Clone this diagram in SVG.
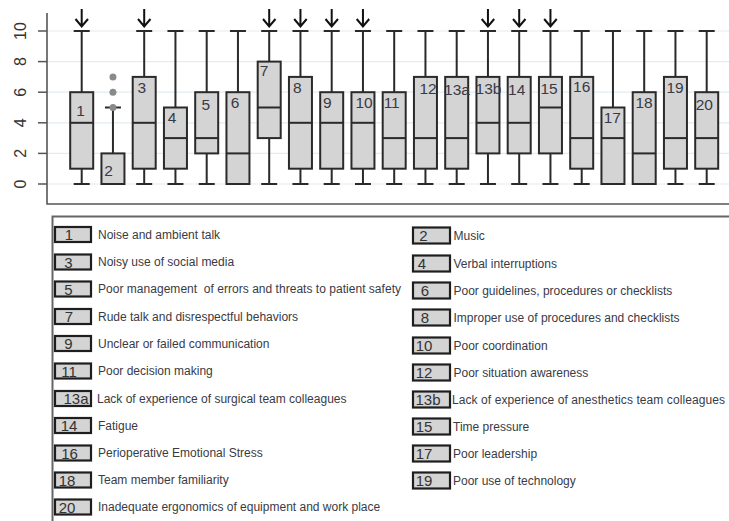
<svg xmlns="http://www.w3.org/2000/svg" width="729" height="521" viewBox="0 0 729 521">
<style>
.grid{stroke:#e3ecf2;stroke-width:1.2}
.axis{stroke:#555;stroke-width:1.6;fill:none}
.tick{stroke:#555;stroke-width:1.5}
.tl{font-family:"Liberation Sans",Arial,sans-serif;font-size:16px;fill:#333}
.box{fill:#d4d4d4;stroke:#2a2a2a;stroke-width:2}
.wh{stroke:#2a2a2a;stroke-width:2;fill:none}
.med{stroke:#2a2a2a;stroke-width:2}
.bl{font-family:"Liberation Sans",Arial,sans-serif;font-size:15.5px;fill:#3a3a44;text-anchor:middle}
.arr{stroke:#111;stroke-width:2;fill:none}
.out{fill:#8a8a8a}
.kb{fill:#d4d4d4;stroke:#1e1e1e;stroke-width:2.2}
.kn{font-family:"Liberation Sans",Arial,sans-serif;font-size:15px;fill:#333;text-anchor:middle}
.lt{font-family:"Liberation Sans",Arial,sans-serif;font-size:12px;fill:#3a3a44;white-space:pre}
.frame{stroke:#666;stroke-width:2;fill:none}
</style>
<rect width="729" height="521" fill="#fff"/>
<g id="plot-axes">
<line class="grid" x1="47" y1="184" x2="729" y2="184"/>
<line class="grid" x1="47" y1="153.4" x2="729" y2="153.4"/>
<line class="grid" x1="47" y1="122.8" x2="729" y2="122.8"/>
<line class="grid" x1="47" y1="92.2" x2="729" y2="92.2"/>
<line class="grid" x1="47" y1="61.6" x2="729" y2="61.6"/>
<line class="grid" x1="47" y1="31" x2="729" y2="31"/>
<path class="axis" d="M47 13 V204 H729"/>
<line class="tick" x1="38" y1="184" x2="47" y2="184"/>
<line class="tick" x1="38" y1="153.4" x2="47" y2="153.4"/>
<line class="tick" x1="38" y1="122.8" x2="47" y2="122.8"/>
<line class="tick" x1="38" y1="92.2" x2="47" y2="92.2"/>
<line class="tick" x1="38" y1="61.6" x2="47" y2="61.6"/>
<line class="tick" x1="38" y1="31" x2="47" y2="31"/>
<text class="tl" text-anchor="middle" transform="translate(25.5 184) rotate(-90)">0</text>
<text class="tl" text-anchor="middle" transform="translate(25.5 153.4) rotate(-90)">2</text>
<text class="tl" text-anchor="middle" transform="translate(25.5 122.8) rotate(-90)">4</text>
<text class="tl" text-anchor="middle" transform="translate(25.5 92.2) rotate(-90)">6</text>
<text class="tl" text-anchor="middle" transform="translate(25.5 61.6) rotate(-90)">8</text>
<text class="tl" text-anchor="middle" transform="translate(25.5 31) rotate(-90)">10</text>
</g>
<g id="box1"><path class="wh" d="M81.7 31V92.2M81.7 168.7V184M73.7 31H89.7M73.7 184H89.7"/><rect class="box" x="70.2" y="92.2" width="23" height="76.5"/><line class="med" x1="70.2" y1="122.8" x2="93.2" y2="122.8"/><text class="bl" x="80.5" y="115.5">1</text><path class="arr" d="M81.7 9V26.5M75.5 19L81.7 26.5L88 19"/></g>
<g id="box2"><path class="wh" d="M112.95 107.5V153.4M104.95 107.5H120.95"/><rect class="box" x="101.45" y="153.4" width="23" height="30.6"/><line class="med" x1="101.45" y1="184" x2="124.45" y2="184"/><circle class="out" cx="112.95" cy="107.5" r="3.5"/><circle class="out" cx="112.95" cy="92.2" r="3.5"/><circle class="out" cx="112.95" cy="76.9" r="3.5"/><text class="bl" x="108.5" y="176">2</text></g>
<g id="box3"><path class="wh" d="M144.2 31V76.9M144.2 168.7V184M136.2 31H152.2M136.2 184H152.2"/><rect class="box" x="132.7" y="76.9" width="23" height="91.8"/><line class="med" x1="132.7" y1="122.8" x2="155.7" y2="122.8"/><text class="bl" x="141.7" y="93">3</text><path class="arr" d="M144.2 9V26.5M138 19L144.2 26.5L150.5 19"/></g>
<g id="box4"><path class="wh" d="M175.45 31V107.5M175.45 168.7V184M167.45 31H183.45M167.45 184H183.45"/><rect class="box" x="163.95" y="107.5" width="23" height="61.2"/><line class="med" x1="163.95" y1="138.1" x2="186.95" y2="138.1"/><text class="bl" x="172" y="123">4</text></g>
<g id="box5"><path class="wh" d="M206.7 31V92.2M206.7 153.4V184M198.7 31H214.7M198.7 184H214.7"/><rect class="box" x="195.2" y="92.2" width="23" height="61.2"/><line class="med" x1="195.2" y1="138.1" x2="218.2" y2="138.1"/><text class="bl" x="205.7" y="109.5">5</text></g>
<g id="box6"><path class="wh" d="M237.95 31V92.2M229.95 31H245.95"/><rect class="box" x="226.45" y="92.2" width="23" height="91.8"/><line class="med" x1="226.45" y1="153.4" x2="249.45" y2="153.4"/><text class="bl" x="235" y="108">6</text></g>
<g id="box7"><path class="wh" d="M269.2 31V61.6M269.2 138.1V184M261.2 31H277.2M261.2 184H277.2"/><rect class="box" x="257.7" y="61.6" width="23" height="76.5"/><line class="med" x1="257.7" y1="107.5" x2="280.7" y2="107.5"/><text class="bl" x="264" y="76">7</text><path class="arr" d="M269.2 9V26.5M263 19L269.2 26.5L275.5 19"/></g>
<g id="box8"><path class="wh" d="M300.45 31V76.9M300.45 168.7V184M292.45 31H308.45M292.45 184H308.45"/><rect class="box" x="288.95" y="76.9" width="23" height="91.8"/><line class="med" x1="288.95" y1="122.8" x2="311.95" y2="122.8"/><text class="bl" x="297.3" y="93">8</text><path class="arr" d="M300.45 9V26.5M294.2 19L300.45 26.5L306.7 19"/></g>
<g id="box9"><path class="wh" d="M331.7 31V92.2M331.7 168.7V184M323.7 31H339.7M323.7 184H339.7"/><rect class="box" x="320.2" y="92.2" width="23" height="76.5"/><line class="med" x1="320.2" y1="122.8" x2="343.2" y2="122.8"/><text class="bl" x="327.3" y="108">9</text><path class="arr" d="M331.7 9V26.5M325.5 19L331.7 26.5L338 19"/></g>
<g id="box10"><path class="wh" d="M362.95 31V92.2M362.95 168.7V184M354.95 31H370.95M354.95 184H370.95"/><rect class="box" x="351.45" y="92.2" width="23" height="76.5"/><line class="med" x1="351.45" y1="122.8" x2="374.45" y2="122.8"/><text class="bl" x="364" y="108">10</text><path class="arr" d="M362.95 9V26.5M356.7 19L362.95 26.5L369.2 19"/></g>
<g id="box11"><path class="wh" d="M394.2 31V92.2M394.2 168.7V184M386.2 31H402.2M386.2 184H402.2"/><rect class="box" x="382.7" y="92.2" width="23" height="76.5"/><line class="med" x1="382.7" y1="138.1" x2="405.7" y2="138.1"/><text class="bl" x="391.7" y="108">11</text></g>
<g id="box12"><path class="wh" d="M425.45 31V76.9M425.45 168.7V184M417.45 31H433.45M417.45 184H433.45"/><rect class="box" x="413.95" y="76.9" width="23" height="91.8"/><line class="med" x1="413.95" y1="138.1" x2="436.95" y2="138.1"/><text class="bl" x="428" y="93.5">12</text></g>
<g id="box13a"><path class="wh" d="M456.7 31V76.9M456.7 168.7V184M448.7 31H464.7M448.7 184H464.7"/><rect class="box" x="445.2" y="76.9" width="23" height="91.8"/><line class="med" x1="445.2" y1="138.1" x2="468.2" y2="138.1"/><text class="bl" x="457" y="94.5">13a</text></g>
<g id="box13b"><path class="wh" d="M487.95 31V76.9M487.95 153.4V184M479.95 31H495.95M479.95 184H495.95"/><rect class="box" x="476.45" y="76.9" width="23" height="76.5"/><line class="med" x1="476.45" y1="122.8" x2="499.45" y2="122.8"/><text class="bl" x="488.5" y="93.5">13b</text><path class="arr" d="M487.95 9V26.5M481.7 19L487.95 26.5L494.2 19"/></g>
<g id="box14"><path class="wh" d="M519.2 31V76.9M519.2 153.4V184M511.2 31H527.2M511.2 184H527.2"/><rect class="box" x="507.7" y="76.9" width="23" height="76.5"/><line class="med" x1="507.7" y1="122.8" x2="530.7" y2="122.8"/><text class="bl" x="516.7" y="94.5">14</text><path class="arr" d="M519.2 9V26.5M513 19L519.2 26.5L525.5 19"/></g>
<g id="box15"><path class="wh" d="M550.45 31V76.9M550.45 153.4V184M542.45 31H558.45M542.45 184H558.45"/><rect class="box" x="538.95" y="76.9" width="23" height="76.5"/><line class="med" x1="538.95" y1="107.5" x2="561.95" y2="107.5"/><text class="bl" x="549" y="93.5">15</text><path class="arr" d="M550.45 9V26.5M544.2 19L550.45 26.5L556.7 19"/></g>
<g id="box16"><path class="wh" d="M581.7 31V76.9M581.7 168.7V184M573.7 31H589.7M573.7 184H589.7"/><rect class="box" x="570.2" y="76.9" width="23" height="91.8"/><line class="med" x1="570.2" y1="138.1" x2="593.2" y2="138.1"/><text class="bl" x="581.7" y="92">16</text></g>
<g id="box17"><path class="wh" d="M612.95 31V107.5M604.95 31H620.95"/><rect class="box" x="601.45" y="107.5" width="23" height="76.5"/><line class="med" x1="601.45" y1="138.1" x2="624.45" y2="138.1"/><text class="bl" x="612.3" y="122.5">17</text></g>
<g id="box18"><path class="wh" d="M644.2 31V92.2M636.2 31H652.2"/><rect class="box" x="632.7" y="92.2" width="23" height="91.8"/><line class="med" x1="632.7" y1="153.4" x2="655.7" y2="153.4"/><text class="bl" x="644" y="108">18</text></g>
<g id="box19"><path class="wh" d="M675.45 31V76.9M675.45 168.7V184M667.45 31H683.45M667.45 184H683.45"/><rect class="box" x="663.95" y="76.9" width="23" height="91.8"/><line class="med" x1="663.95" y1="138.1" x2="686.95" y2="138.1"/><text class="bl" x="675" y="92.5">19</text></g>
<g id="box20"><path class="wh" d="M706.7 31V92.2M706.7 168.7V184M698.7 31H714.7M698.7 184H714.7"/><rect class="box" x="695.2" y="92.2" width="23" height="76.5"/><line class="med" x1="695.2" y1="138.1" x2="718.2" y2="138.1"/><text class="bl" x="704.3" y="109.5">20</text></g>
<g id="legend-frame"><path class="frame" d="M52.5 521V216.5H729"/></g>
<g id="legend1"><rect class="kb" x="55" y="227" width="36" height="15"/><text class="kn" x="69" y="240">1</text><text class="lt" x="98" y="238.5">Noise and ambient talk</text></g>
<g id="legend2"><rect class="kb" x="413" y="227.5" width="37" height="16"/><text class="kn" x="423.5" y="241">2</text><text class="lt" x="453.5" y="240">Music</text></g>
<g id="legend3"><rect class="kb" x="55" y="254.5" width="36" height="15"/><text class="kn" x="68.5" y="267.5">3</text><text class="lt" x="98" y="266">Noisy use of social media</text></g>
<g id="legend4"><rect class="kb" x="413" y="255.5" width="37" height="16"/><text class="kn" x="422" y="269">4</text><text class="lt" x="453.5" y="268">Verbal interruptions</text></g>
<g id="legend5"><rect class="kb" x="55" y="281.5" width="36" height="15"/><text class="kn" x="68.5" y="294.5">5</text><text class="lt" x="98" y="293" textLength="303">Poor management  of errors and threats to patient safety</text></g>
<g id="legend6"><rect class="kb" x="413" y="282.5" width="37" height="16"/><text class="kn" x="425" y="296">6</text><text class="lt" x="453.5" y="295">Poor guidelines, procedures or checklists</text></g>
<g id="legend7"><rect class="kb" x="55" y="309" width="36" height="15"/><text class="kn" x="69" y="322">7</text><text class="lt" x="98" y="320.5">Rude talk and disrespectful behaviors</text></g>
<g id="legend8"><rect class="kb" x="413" y="309.5" width="37" height="16"/><text class="kn" x="425" y="323">8</text><text class="lt" x="453.5" y="322">Improper use of procedures and checklists</text></g>
<g id="legend9"><rect class="kb" x="55" y="336" width="36" height="15"/><text class="kn" x="68.5" y="349">9</text><text class="lt" x="98" y="347.5">Unclear or failed communication</text></g>
<g id="legend10"><rect class="kb" x="413" y="337.5" width="37" height="16"/><text class="kn" x="424" y="351">10</text><text class="lt" x="453.5" y="350">Poor coordination</text></g>
<g id="legend11"><rect class="kb" x="55" y="363.5" width="36" height="15"/><text class="kn" x="69" y="376.5">11</text><text class="lt" x="98" y="375">Poor decision making</text></g>
<g id="legend12"><rect class="kb" x="413" y="364.5" width="37" height="16"/><text class="kn" x="424" y="378">12</text><text class="lt" x="453.5" y="377">Poor situation awareness</text></g>
<g id="legend13a"><rect class="kb" x="55" y="391" width="36" height="15"/><text class="kn" x="76" y="404">13a</text><text class="lt" x="97" y="402.5">Lack of experience of surgical team colleagues</text></g>
<g id="legend13b"><rect class="kb" x="413" y="391.5" width="37" height="16"/><text class="kn" x="428" y="405">13b</text><text class="lt" x="452" y="404" textLength="273">Lack of experience of anesthetics team colleagues</text></g>
<g id="legend14"><rect class="kb" x="55" y="418" width="36" height="15"/><text class="kn" x="69" y="431">14</text><text class="lt" x="98" y="429.5">Fatigue</text></g>
<g id="legend15"><rect class="kb" x="413" y="418.5" width="37" height="16"/><text class="kn" x="424" y="432">15</text><text class="lt" x="453" y="431">Time pressure</text></g>
<g id="legend16"><rect class="kb" x="55" y="445.5" width="36" height="15"/><text class="kn" x="69.5" y="458.5">16</text><text class="lt" x="98" y="457">Perioperative Emotional Stress</text></g>
<g id="legend17"><rect class="kb" x="413" y="445.5" width="37" height="16"/><text class="kn" x="424" y="459">17</text><text class="lt" x="453" y="458">Poor leadership</text></g>
<g id="legend18"><rect class="kb" x="55" y="472.5" width="36" height="15"/><text class="kn" x="67" y="485.5">18</text><text class="lt" x="98" y="484">Team member familiarity</text></g>
<g id="legend19"><rect class="kb" x="413" y="472.5" width="37" height="16"/><text class="kn" x="424" y="486">19</text><text class="lt" x="453" y="485">Poor use of technology</text></g>
<g id="legend20"><rect class="kb" x="55" y="499.5" width="36" height="15"/><text class="kn" x="67" y="512.5">20</text><text class="lt" x="98" y="511">Inadequate ergonomics of equipment and work place</text></g>
<g id="connectors"></g>
</svg>
